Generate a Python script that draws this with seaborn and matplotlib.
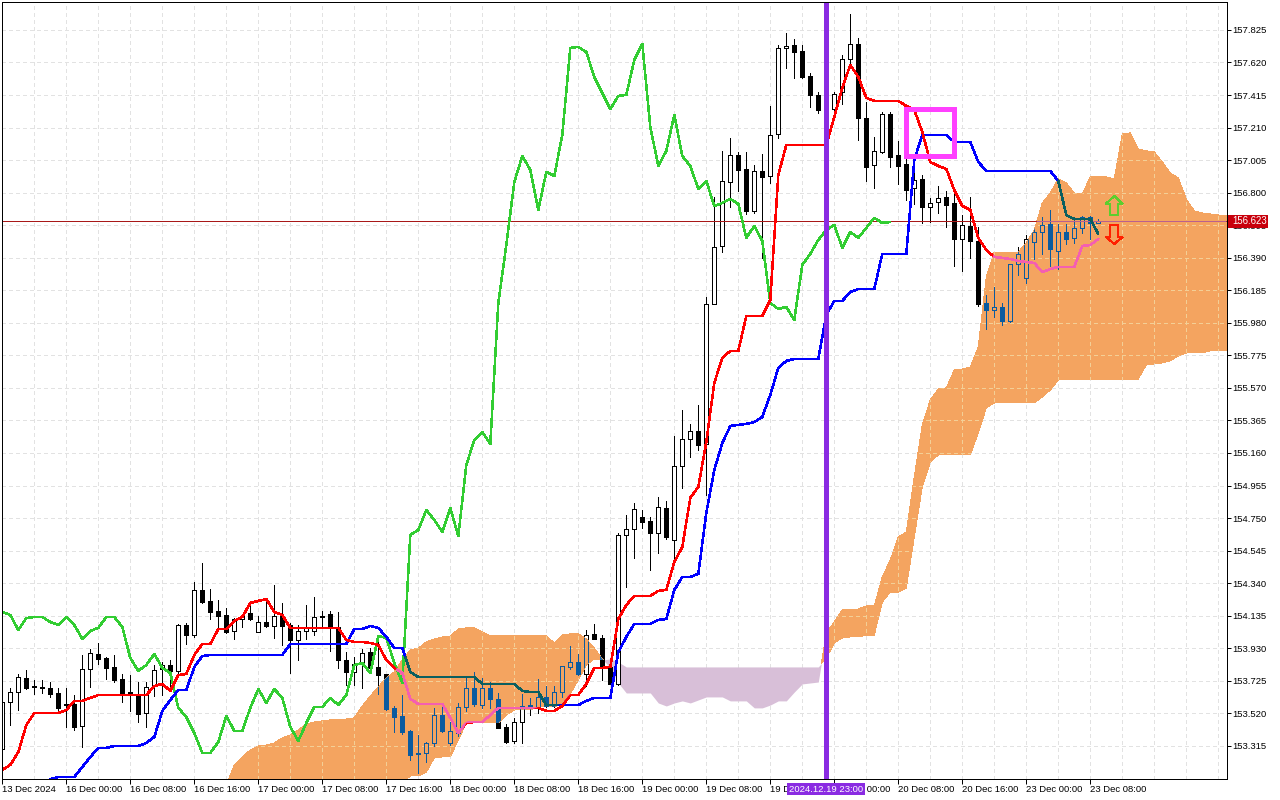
import numpy as np
import seaborn as sns
import matplotlib.pyplot as plt
from matplotlib.patches import FancyArrow, Rectangle
from matplotlib.path import Path

# hourly USDJPY-style candles, one value per bar
opens = [
    153.295, 153.591, 153.654, 153.743, 153.692, 153.686, 153.680, 153.648, 153.576, 153.579,
    153.440, 153.799, 153.894, 153.868, 153.812, 153.736, 153.654, 153.642, 153.522, 153.692,
    153.799, 153.824, 153.787, 154.076, 154.013, 154.297, 154.228, 154.165, 154.139, 154.039,
    154.114, 154.152, 154.032, 154.095, 154.070, 154.133, 154.076, 153.982, 154.039, 154.039,
    154.130, 154.146, 154.064, 153.856, 153.780, 153.831, 153.906, 153.812, 153.768, 153.554,
    153.503, 153.409, 153.270, 153.270, 153.333, 153.509, 153.333, 153.396, 153.560, 153.680,
    153.572, 153.680, 153.610, 153.434, 153.346, 153.465, 153.572, 153.554, 153.623, 153.566,
    153.654, 153.812, 153.843, 153.768, 154.020, 153.995, 153.812, 153.705, 154.644, 154.681,
    154.757, 154.732, 154.656, 154.814, 154.612, 155.078, 155.248, 155.299, 155.217, 156.099,
    156.464, 156.867, 157.038, 156.949, 156.685, 156.937, 156.905, 157.170, 157.712, 157.731,
    157.693, 157.535, 157.416, 157.321, 157.327, 157.434, 157.642, 157.737, 157.271, 156.975,
    157.056, 157.296, 157.038, 156.981, 156.830, 156.886, 156.710, 156.741, 156.773, 156.735,
    156.508, 156.590, 156.496, 156.105, 156.061, 156.080, 155.992, 156.351, 156.263, 156.489,
    156.552, 156.603, 156.433, 156.552, 156.515, 156.578, 156.647, 156.609,
]
highs = [
    153.591, 153.680, 153.768, 153.793, 153.730, 153.730, 153.717, 153.680, 153.680, 153.635,
    153.887, 153.925, 153.963, 153.875, 153.887, 153.768, 153.761, 153.717, 153.717, 153.824,
    153.843, 153.856, 154.083, 154.089, 154.348, 154.467, 154.303, 154.234, 154.184, 154.120,
    154.146, 154.221, 154.133, 154.240, 154.329, 154.215, 154.089, 154.076, 154.202, 154.253,
    154.165, 154.165, 154.158, 153.906, 153.875, 153.925, 153.931, 154.001, 153.768, 153.566,
    153.635, 153.415, 153.383, 153.339, 153.554, 153.585, 153.465, 153.585, 153.743, 153.780,
    153.743, 153.717, 153.648, 153.453, 153.491, 153.642, 153.617, 153.736, 153.692, 153.692,
    153.818, 153.944, 153.894, 154.045, 154.083, 154.013, 153.868, 154.656, 154.769, 154.845,
    154.801, 154.757, 154.883, 154.858, 155.267, 155.431, 155.343, 155.462, 156.143, 156.773,
    157.063, 157.145, 157.056, 157.056, 156.975, 157.044, 157.346, 157.731, 157.806, 157.768,
    157.731, 157.554, 157.434, 157.434, 157.434, 157.668, 157.926, 157.775, 157.371, 157.151,
    157.308, 157.308, 157.126, 157.012, 156.930, 156.911, 156.767, 156.842, 156.811, 156.792,
    156.659, 156.773, 156.584, 156.155, 156.206, 156.105, 156.351, 156.458, 156.534, 156.584,
    156.647, 156.691, 156.603, 156.603, 156.628, 156.653, 156.653, 156.634,
]
lows = [
    153.295, 153.446, 153.541, 153.673, 153.642, 153.648, 153.623, 153.528, 153.434, 153.415,
    153.308, 153.686, 153.831, 153.736, 153.717, 153.591, 153.535, 153.465, 153.434, 153.629,
    153.635, 153.686, 153.761, 153.957, 154.001, 154.215, 154.114, 154.058, 154.026, 153.988,
    154.064, 154.108, 154.032, 154.064, 153.995, 153.950, 153.774, 153.856, 153.988, 154.013,
    154.064, 153.913, 153.806, 153.698, 153.698, 153.680, 153.774, 153.642, 153.541, 153.402,
    153.390, 153.226, 153.144, 153.213, 153.314, 153.402, 153.320, 153.377, 153.535, 153.566,
    153.554, 153.554, 153.428, 153.333, 153.333, 153.333, 153.509, 153.522, 153.560, 153.560,
    153.623, 153.799, 153.761, 153.692, 153.988, 153.730, 153.705, 153.698, 154.316, 154.499,
    154.688, 154.423, 154.530, 154.618, 154.486, 154.940, 155.135, 155.179, 154.895, 156.099,
    156.426, 156.710, 156.811, 156.666, 156.672, 156.389, 156.861, 157.145, 157.586, 157.523,
    157.523, 157.340, 157.302, 157.302, 157.258, 157.359, 157.605, 157.132, 156.874, 156.830,
    157.050, 156.962, 156.855, 156.754, 156.729, 156.609, 156.615, 156.672, 156.584, 156.338,
    156.307, 156.389, 156.086, 155.941, 156.017, 155.967, 155.985, 156.282, 156.231, 156.382,
    156.414, 156.338, 156.319, 156.477, 156.483, 156.546, 156.508, 156.609,
]
closes = [
    153.591, 153.654, 153.749, 153.680, 153.683, 153.680, 153.642, 153.554, 153.572, 153.434,
    153.799, 153.900, 153.862, 153.806, 153.730, 153.642, 153.642, 153.516, 153.686, 153.793,
    153.824, 153.787, 154.076, 154.013, 154.297, 154.221, 154.158, 154.133, 154.032, 154.114,
    154.133, 154.114, 154.095, 154.070, 154.133, 154.070, 153.982, 154.039, 154.058, 154.127,
    154.124, 154.064, 153.856, 153.780, 153.831, 153.900, 153.806, 153.761, 153.547, 153.497,
    153.402, 153.257, 153.264, 153.333, 153.509, 153.409, 153.409, 153.560, 153.680, 153.579,
    153.680, 153.610, 153.428, 153.339, 153.465, 153.566, 153.554, 153.623, 153.566, 153.654,
    153.818, 153.843, 153.768, 154.013, 153.988, 153.812, 153.705, 154.644, 154.681, 154.807,
    154.725, 154.656, 154.820, 154.631, 155.078, 155.248, 155.299, 155.211, 156.099, 156.458,
    156.874, 157.038, 156.943, 156.685, 156.937, 156.899, 157.164, 157.712, 157.724, 157.686,
    157.529, 157.416, 157.321, 157.422, 157.422, 157.642, 157.737, 157.271, 156.962, 157.063,
    157.296, 157.025, 156.968, 156.817, 156.880, 156.710, 156.735, 156.767, 156.722, 156.508,
    156.596, 156.496, 156.099, 156.061, 156.080, 155.992, 156.351, 156.414, 156.508, 156.552,
    156.596, 156.445, 156.552, 156.508, 156.578, 156.647, 156.609, 156.622,
]

tenkan = [
    153.163, 153.195, 153.276, 153.446, 153.522, 153.522, 153.522, 153.522, 153.541, 153.598,
    153.598, 153.617, 153.635, 153.635, 153.635, 153.635, 153.635, 153.635, 153.635, 153.692,
    153.705, 153.661, 153.761, 153.768, 153.887, 153.957, 153.957, 154.051, 154.051, 154.102,
    154.127, 154.215, 154.228, 154.240, 154.158, 154.139, 154.058, 154.058, 154.058, 154.058,
    154.058, 154.058, 154.058, 153.982, 153.969, 153.969, 153.963, 153.950, 153.856, 153.806,
    153.774, 153.610, 153.579, 153.579, 153.579, 153.579, 153.491, 153.396, 153.459, 153.465,
    153.465, 153.509, 153.554, 153.554, 153.554, 153.554, 153.554, 153.554, 153.535, 153.535,
    153.566, 153.635, 153.635, 153.705, 153.806, 153.806, 153.812, 154.114, 154.202, 154.259,
    154.259, 154.259, 154.291, 154.297, 154.473, 154.568, 154.877, 154.946, 155.229, 155.601,
    155.759, 155.803, 155.803, 156.023, 156.023, 156.023, 156.124, 156.911, 157.100, 157.100,
    157.100, 157.100, 157.100, 157.100, 157.277, 157.460, 157.605, 157.529, 157.397, 157.378,
    157.378, 157.378, 157.378, 157.346, 157.321, 157.182, 156.993, 156.968, 156.949, 156.817,
    156.716, 156.691, 156.515, 156.439, 156.395, 156.389, 156.382, 156.370, 156.363, 156.357,
    156.300, 156.319, 156.332, 156.332, 156.332, 156.464, 156.470, 156.508,
]
kijun = [
    153.050, 153.050, 153.050, 153.050, 153.050, 153.050, 153.106, 153.119, 153.119, 153.119,
    153.182, 153.245, 153.302, 153.302, 153.314, 153.314, 153.314, 153.314, 153.333, 153.371,
    153.535, 153.604, 153.667, 153.667, 153.812, 153.881, 153.887, 153.887, 153.887, 153.887,
    153.887, 153.887, 153.887, 153.887, 153.887, 153.887, 153.957, 153.957, 153.957, 153.957,
    153.957, 153.957, 153.957, 153.957, 154.051, 154.051, 154.070, 154.058, 154.001, 153.931,
    153.931, 153.780, 153.749, 153.749, 153.749, 153.749, 153.749, 153.749, 153.749, 153.749,
    153.705, 153.705, 153.705, 153.705, 153.705, 153.661, 153.654, 153.654, 153.572, 153.572,
    153.572, 153.572, 153.572, 153.598, 153.617, 153.617, 153.617, 153.906, 154.001, 154.083,
    154.083, 154.083, 154.108, 154.114, 154.297, 154.379, 154.379, 154.398, 154.782, 155.053,
    155.223, 155.330, 155.337, 155.343, 155.355, 155.387, 155.526, 155.696, 155.740, 155.752,
    155.752, 155.752, 155.752, 156.030, 156.118, 156.118, 156.174, 156.193, 156.193, 156.193,
    156.414, 156.414, 156.414, 156.414, 157.006, 157.164, 157.164, 157.164, 157.164, 157.119,
    157.119, 157.119, 156.993, 156.937, 156.937, 156.937, 156.937, 156.937, 156.937, 156.937,
    156.937, 156.937, 156.874, 156.659, 156.634, 156.634, 156.634, 156.540,
]
chikou = [
    154.158, 154.139, 154.045, 154.120, 154.127, 154.127, 154.095, 154.076, 154.127, 154.076,
    153.988, 154.039, 154.058, 154.127, 154.127, 154.064, 153.868, 153.787, 153.824, 153.894,
    153.806, 153.774, 153.554, 153.497, 153.396, 153.270, 153.270, 153.339, 153.503, 153.409,
    153.409, 153.554, 153.673, 153.585, 153.673, 153.617, 153.434, 153.346, 153.459, 153.560,
    153.560, 153.617, 153.572, 153.635, 153.824, 153.837, 153.774, 154.007, 153.995, 153.837,
    153.711, 154.644, 154.675, 154.801, 154.738, 154.662, 154.814, 154.637, 155.084, 155.242,
    155.292, 155.217, 156.105, 156.470, 156.867, 157.031, 156.943, 156.691, 156.930, 156.905,
    157.164, 157.712, 157.718, 157.686, 157.529, 157.428, 157.327, 157.409, 157.416, 157.636,
    157.737, 157.214, 156.968, 157.063, 157.290, 157.031, 156.968, 156.823, 156.874, 156.716,
    156.735, 156.760, 156.729, 156.515, 156.590, 156.496, 156.105, 156.067, 156.080, 155.998,
    156.345, 156.414, 156.502, 156.565, 156.596, 156.452, 156.552, 156.515, 156.578, 156.641,
    156.609, 156.615,
]

# the cloud starts at bar 28 and runs 16 bars past the last candle
span_start = 28
senkou_a = [
    153.069, 153.195, 153.245, 153.289, 153.314, 153.320, 153.333, 153.365, 153.383, 153.415,
    153.453, 153.465, 153.472, 153.478, 153.478, 153.484, 153.491, 153.566, 153.629, 153.686,
    153.743, 153.780, 153.856, 153.919, 153.931, 153.969, 153.988, 154.001, 154.007, 154.051,
    154.058, 154.058, 154.032, 154.007, 154.007, 154.007, 154.007, 154.007, 154.007, 154.007,
    154.007, 153.963, 154.013, 154.020, 154.020, 153.988, 153.931, 153.862, 153.806, 153.711,
    153.648, 153.648, 153.648, 153.648, 153.585, 153.566, 153.585, 153.598, 153.585, 153.604,
    153.623, 153.623, 153.623, 153.598, 153.598, 153.598, 153.554, 153.554, 153.572, 153.598,
    153.598, 153.654, 153.705, 153.711, 153.717, 154.026, 154.095, 154.171, 154.171, 154.177,
    154.196, 154.196, 154.379, 154.486, 154.631, 154.662, 155.009, 155.337, 155.494, 155.563,
    155.570, 155.683, 155.689, 155.702, 155.828, 156.269, 156.426, 156.426, 156.426, 156.426,
    156.483, 156.565, 156.735, 156.798, 156.886, 156.861, 156.798, 156.792, 156.899, 156.899,
    156.899, 156.886, 157.170, 157.176, 157.075, 157.063, 157.056, 156.993, 156.924, 156.893,
    156.760, 156.685, 156.672, 156.666, 156.659, 156.653,
]
senkou_b = [
    152.974, 152.974, 152.974, 152.974, 152.974, 152.974, 152.974, 152.974, 152.974, 152.974,
    152.974, 152.974, 152.974, 152.974, 152.974, 152.974, 152.974, 152.974, 152.974, 152.974,
    153.006, 153.037, 153.081, 153.125, 153.125, 153.150, 153.239, 153.245, 153.245, 153.352,
    153.459, 153.459, 153.459, 153.459, 153.459, 153.509, 153.541, 153.541, 153.541, 153.560,
    153.560, 153.560, 153.585, 153.642, 153.730, 153.824, 153.862, 153.856, 153.862, 153.843,
    153.812, 153.812, 153.812, 153.812, 153.812, 153.812, 153.812, 153.812, 153.812, 153.812,
    153.812, 153.812, 153.812, 153.812, 153.812, 153.812, 153.812, 153.812, 153.812, 153.812,
    153.812, 153.812, 153.812, 153.812, 153.812, 153.868, 153.963, 153.995, 154.001, 154.001,
    154.013, 154.013, 154.221, 154.284, 154.284, 154.310, 154.631, 154.946, 155.103, 155.148,
    155.148, 155.148, 155.148, 155.148, 155.286, 155.444, 155.475, 155.475, 155.475, 155.475,
    155.475, 155.475, 155.513, 155.557, 155.620, 155.620, 155.620, 155.620, 155.620, 155.620,
    155.620, 155.620, 155.620, 155.620, 155.626, 155.714, 155.721, 155.727, 155.740, 155.771,
    155.790, 155.790, 155.790, 155.803, 155.803, 155.803,
]

price_ticks = [153.315, 153.520, 153.725, 153.930, 154.135, 154.340, 154.545, 154.750,
               154.955, 155.160, 155.365, 155.570, 155.775, 155.980, 156.185, 156.390,
               156.595, 156.800, 157.005, 157.210, 157.415, 157.620, 157.825]
time_labels = ["13 Dec 2024", "16 Dec 00:00", "16 Dec 08:00", "16 Dec 16:00", "17 Dec 00:00",
               "17 Dec 08:00", "17 Dec 16:00", "18 Dec 00:00", "18 Dec 08:00", "18 Dec 16:00",
               "19 Dec 00:00", "19 Dec 08:00", "19 Dec 16:00", "20 Dec 00:00", "20 Dec 08:00",
               "20 Dec 16:00", "23 Dec 00:00", "23 Dec 08:00"]
last_price = 156.623
marked_bar = 103
marked_label = "2024.12.19 23:00"
box_bars = [113, 119]
box_prices = [157.03, 157.33]

ORANGE = "#F4A460"
LILAC = "#D8BFD8"
INK_IN_CLOUD = "#0B5B9F"
LINE_W = 1.1
LABEL_SIZE = 6.8

sns.set_theme(style="white")
plt.rcParams["font.family"] = ["Liberation Sans", "DejaVu Sans"]
plt.rcParams["lines.antialiased"] = False
plt.rcParams["patch.antialiased"] = False

fig = plt.figure(figsize=(12.8, 8), dpi=100)
ax = fig.add_axes([2 / 1280, 21 / 800, 1225 / 1280, 777 / 800])
ax.set_xlim(-0.04, 153.09)
ax.set_ylim(153.106, 158.001)

bars = np.arange(len(opens))
o = np.array(opens)
c = np.array(closes)
up = c >= o
width = 0.5
wick_lw = 0.72

# grid
ax.set_axisbelow(True)
ax.set_xticks(np.arange(0, 137, 8))
ax.set_xticks(np.arange(0, 154, 4), minor=True)
ax.set_yticks(price_ticks)
ax.grid(True, which="both", color="#E2E2E2", lw=0.72, ls=(0, (4, 3)))

# kumo
span = np.arange(span_start, span_start + len(senkou_a))
a = np.array(senkou_a)
b = np.array(senkou_b)
ax.fill_between(span, a, b, where=a < b, interpolate=True, color=LILAC, lw=0, zorder=1)
cloud = ax.fill_between(span, a, b, where=a >= b, interpolate=True, color=ORANGE, lw=0, zorder=3)
cloud_path = Path.make_compound_path(*cloud.get_paths())


def inside_cloud(artist):
    artist.set_clip_path(cloud_path, ax.transData)


# candles
ax.vlines(bars, lows, highs, color="black", lw=wick_lw, zorder=2)
ax.bar(bars[up], c[up] - o[up], bottom=o[up], width=width, facecolor="white",
       edgecolor="black", lw=wick_lw, zorder=2.1)
ax.bar(bars[~up], o[~up] - c[~up], bottom=c[~up], width=width, facecolor="black",
       edgecolor="black", lw=wick_lw, zorder=2.1)

# same candles again where they sit on the cloud
grid_vl = ax.vlines(np.arange(0, 154, 4), 153.106, 158.001, color="#F3CF96", lw=0.72,
                    ls=(0, (4, 3)), zorder=3.1)
grid_hl = ax.hlines(price_ticks, -0.04, 153.09, color="#F3CF96", lw=0.72,
                    ls=(0, (4, 3)), zorder=3.1)
inside_cloud(grid_vl)
inside_cloud(grid_hl)
wicks = ax.vlines(bars, lows, highs, color=INK_IN_CLOUD, lw=wick_lw, zorder=3.5)
inside_cloud(wicks)
for rect in ax.bar(bars[up], c[up] - o[up], bottom=o[up], width=width, facecolor=ORANGE,
                   edgecolor=INK_IN_CLOUD, lw=wick_lw, zorder=3.6):
    inside_cloud(rect)
for rect in ax.bar(bars[~up], o[~up] - c[~up], bottom=c[~up], width=width,
                   facecolor=INK_IN_CLOUD, edgecolor=INK_IN_CLOUD, lw=wick_lw, zorder=3.6):
    inside_cloud(rect)

# current price
ax.axhline(last_price, color="#A81818", lw=0.72, zorder=3.8)
inside_cloud(ax.axhline(last_price, color="#B9608F", lw=0.72, zorder=3.85))

# ichimoku lines
sns.lineplot(x=np.arange(len(chikou)), y=chikou, ax=ax, color="#32CD32", lw=LINE_W, zorder=4)
sns.lineplot(x=np.arange(len(kijun)), y=kijun, ax=ax, color="#0000FF", lw=LINE_W, zorder=4.1)
sns.lineplot(x=np.arange(len(kijun)), y=kijun, ax=ax, color="#0B5F60", lw=LINE_W, zorder=4.15)
inside_cloud(ax.lines[-1])
sns.lineplot(x=np.arange(len(tenkan)), y=tenkan, ax=ax, color="#FF0000", lw=LINE_W, zorder=4.2)
sns.lineplot(x=np.arange(len(tenkan)), y=tenkan, ax=ax, color="#F45FB0", lw=LINE_W, zorder=4.25)
inside_cloud(ax.lines[-1])
ax.set_xlim(-0.04, 153.09)
ax.set_ylim(153.106, 158.001)

# annotations
ax.axvline(marked_bar, color="#8A2BE2", lw=3.6, zorder=5)
ax.add_patch(Rectangle((box_bars[0], box_prices[0]), box_bars[1] - box_bars[0],
                       box_prices[1] - box_prices[0], fill=False, edgecolor="#FF40FF",
                       lw=3.6, joinstyle="miter", zorder=5))
ax.add_patch(FancyArrow(139, 156.659, 0, 0.120, width=1.0, head_width=2.1, head_length=0.050,
                        length_includes_head=True, facecolor="none", edgecolor="#5DCE2E",
                        lw=0.9, zorder=5))
ax.add_patch(FancyArrow(139, 156.596, 0, -0.119, width=1.0, head_width=2.1, head_length=0.044,
                        length_includes_head=True, facecolor="none", edgecolor="#FF2000",
                        lw=0.9, zorder=5))

# axes furniture
ax.yaxis.tick_right()
ax.set_yticklabels([f"{p:.3f}" for p in price_ticks], fontsize=LABEL_SIZE, color="black")
ax.set_xticklabels(time_labels, fontsize=LABEL_SIZE, color="black", ha="left")
ax.tick_params(axis="y", which="major", length=3, width=0.72, pad=1, right=True, color="black")
ax.tick_params(axis="x", which="major", length=3.5, width=0.72, pad=0.5, bottom=True, color="black")
ax.tick_params(axis="x", which="minor", length=0)
for side in ax.spines.values():
    side.set_visible(True)
    side.set_color("black")
    side.set_linewidth(0.72)
    side.set_zorder(6)

# marked bar tag on the time axis and last price tag on the price axis
fig.add_artist(Rectangle((787 / 1280, 5 / 800), 78 / 1280, 12 / 800, transform=fig.transFigure,
                         facecolor="#8A2BE2", edgecolor="none", zorder=5))
fig.text(826 / 1280, 11 / 800, marked_label, color="white", fontsize=LABEL_SIZE, ha="center",
         va="center", zorder=6)
fig.add_artist(Rectangle((1228 / 1280, 572 / 800), 40 / 1280, 13 / 800, transform=fig.transFigure,
                         facecolor="#C8000C", edgecolor="none", zorder=5))
fig.text(1232 / 1280, 578.5 / 800, f"{last_price:.3f}", color="white", fontsize=6.9, ha="left",
         va="center", zorder=6)

fig.savefig("out.png", dpi=100)
